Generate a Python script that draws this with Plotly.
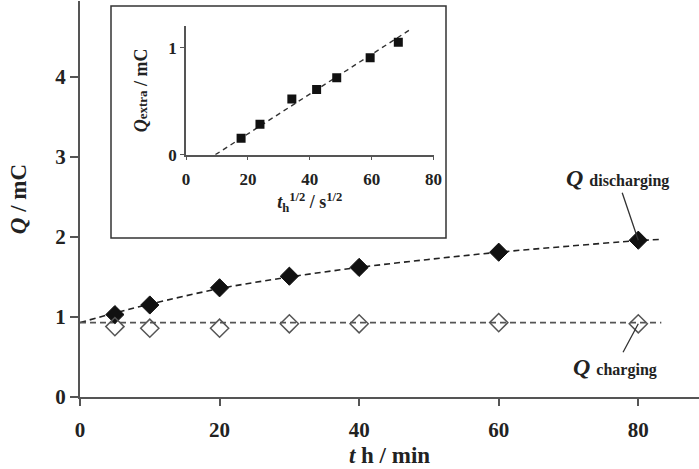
import plotly.graph_objects as go

# ---- main data ----
t_min = [5, 10, 20, 30, 40, 60, 80]
q_discharging = [1.03, 1.15, 1.365, 1.51, 1.62, 1.81, 1.96]
q_charging = [0.88, 0.86, 0.86, 0.915, 0.915, 0.93, 0.915]

# dashed trend lines
fit_dis_t = [0, 5, 10, 20, 30, 40, 50, 60, 70, 80, 83.3]
fit_dis_q = [0.93, 1.05, 1.16, 1.355, 1.5, 1.62, 1.72, 1.81, 1.885, 1.955, 1.97]
fit_ch_t = [0, 83.3]
fit_ch_q = [0.93, 0.93]

# tick labels
x_ticks = [0, 20, 40, 60, 80]
y_ticks = [0, 1, 2, 3, 4]
inset_x_ticks = [0, 20, 40, 60, 80]
inset_y_ticks = [0, 1]

# ---- inset data ----
inset_x = [17.8, 23.9, 34.2, 42.2, 48.7, 59.5, 68.6]
inset_y = [0.153, 0.284, 0.52, 0.61, 0.72, 0.907, 1.05]
inset_fit_x = [9.5, 73]
inset_fit_y = [0, 1.18]

FONT = "Liberation Serif"
AX = "#555555"


def bold(vals):
    return ["<b>%g</b>" % v for v in vals]


fig = go.Figure()

fig.add_trace(go.Scatter(x=fit_dis_t, y=fit_dis_q, mode="lines", line_shape="spline",
                         line=dict(color="#222222", width=1.6, dash="6px,4px"), showlegend=False))
fig.add_trace(go.Scatter(x=fit_ch_t, y=fit_ch_q, mode="lines",
                         line=dict(color="#555555", width=1.6, dash="6px,4px"), showlegend=False))
fig.add_trace(go.Scatter(x=t_min, y=q_discharging, mode="markers",
                         marker=dict(symbol="diamond", size=14, color="#111111",
                                     line=dict(color="#111111", width=1)), showlegend=False))
fig.add_trace(go.Scatter(x=t_min, y=q_charging, mode="markers",
                         marker=dict(symbol="diamond-open", size=14, color="#555555",
                                     line=dict(color="#555555", width=1.5)), showlegend=False))

# inset traces
fig.add_trace(go.Scatter(x=inset_fit_x, y=inset_fit_y, mode="lines", xaxis="x2", yaxis="y2",
                         line=dict(color="#333333", width=1.4, dash="5px,4px"), showlegend=False))
fig.add_trace(go.Scatter(x=inset_x, y=inset_y, mode="markers", xaxis="x2", yaxis="y2",
                         marker=dict(symbol="square", size=9, color="#111111"), showlegend=False))

W, H = 699, 469
L, R, T, B = 80, 0, 1, 72
pw, ph = W - L - R, H - T - B


def px_x(px):
    return (px - L) / pw


def px_y(py):
    return (H - B - py) / ph


fig.update_layout(
    width=W, height=H,
    margin=dict(l=L, r=R, t=T, b=B, autoexpand=False),
    paper_bgcolor="white", plot_bgcolor="white",
    font=dict(family=FONT, color="#222222", size=20),
    xaxis=dict(range=[0, 88.7], tickvals=x_ticks, ticktext=bold(x_ticks),
               showgrid=False, zeroline=False,
               showline=True, linecolor=AX, linewidth=2, ticks="outside", ticklen=7,
               tickcolor=AX, tickwidth=1.5, ticklabelstandoff=6,
               tickfont=dict(family=FONT, size=21),
               title=dict(text="<b><i>t</i> h / min</b>", font=dict(family=FONT, size=23),
                          standoff=6)),
    yaxis=dict(range=[0, 4.95], tickvals=y_ticks, ticktext=bold(y_ticks),
               showgrid=False, zeroline=False,
               showline=True, linecolor=AX, linewidth=2, ticks="outside", ticklen=8,
               tickcolor=AX, tickwidth=1.5,
               tickfont=dict(family=FONT, size=21),
               title=dict(text="<b><i>Q</i> / mC</b>", font=dict(family=FONT, size=23),
                          standoff=22)),
    xaxis2=dict(domain=[px_x(186), px_x(433.6)], anchor="y2", range=[0, 80],
                tickvals=inset_x_ticks, ticktext=bold(inset_x_ticks),
                showgrid=False, zeroline=False, showline=True, linecolor=AX, linewidth=1.5,
                ticks="outside", ticklen=4, tickcolor=AX, ticklabelstandoff=4,
                tickfont=dict(family=FONT, size=17),
                title=dict(text="<b><i>t</i><sub>h</sub><sup>1/2</sup> / s<sup>1/2</sup></b>",
                           font=dict(family=FONT, size=18), standoff=8)),
    yaxis2=dict(domain=[px_y(154.7), px_y(26)], anchor="x2", range=[0, 1.203],
                tickvals=inset_y_ticks, ticktext=bold(inset_y_ticks),
                showgrid=False, zeroline=False, showline=True, linecolor=AX, linewidth=1.5,
                ticks="outside", ticklen=4, tickcolor=AX,
                tickfont=dict(family=FONT, size=17),
                title=dict(text="<b><i>Q</i><span style='font-size:13px'>extra</span> / mC</b>",
                           font=dict(family=FONT, size=18), standoff=16)),
    shapes=[dict(type="rect", xref="paper", yref="paper",
                 x0=px_x(111), x1=px_x(446), y0=px_y(238), y1=px_y(6),
                 line=dict(color="#333333", width=1.5), fillcolor="rgba(0,0,0,0)", layer="below")],
    annotations=[
        dict(x=80, y=1.96, xref="x", yref="y",
             text="<b><i>Q</i> <span style='font-size:16px'>discharging</span></b>",
             font=dict(family=FONT, size=24, color="#222222"),
             showarrow=True, arrowhead=0, arrowwidth=1.3, arrowcolor="#333333",
             ax=-21, ay=-62, standoff=0),
        dict(x=80, y=0.915, xref="x", yref="y",
             text="<b><i>Q</i> <span style='font-size:16px'>charging</span></b>",
             font=dict(family=FONT, size=24, color="#222222"),
             showarrow=True, arrowhead=0, arrowwidth=1.3, arrowcolor="#333333",
             ax=-23, ay=43, standoff=0),
    ],
)

fig.write_html("out.html")
